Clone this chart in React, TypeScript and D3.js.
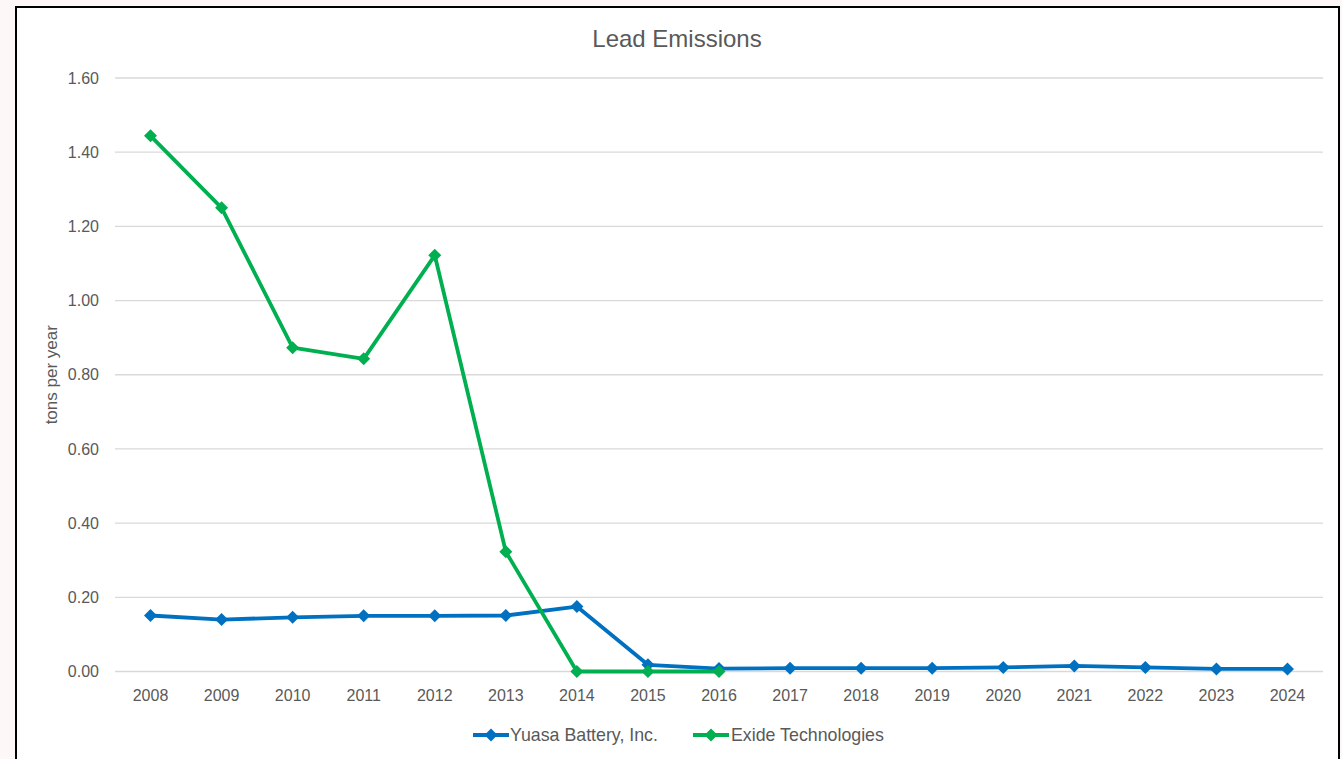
import React from "react";
import * as d3 from "d3";

const years = ["2008","2009","2010","2011","2012","2013","2014","2015","2016","2017","2018","2019","2020","2021","2022","2023","2024"];
const yuasa = [0.151, 0.140, 0.146, 0.150, 0.150, 0.151, 0.175, 0.018, 0.008, 0.009, 0.009, 0.009, 0.011, 0.015, 0.011, 0.007, 0.007];
const exide: (number | null)[] = [1.444, 1.25, 0.873, 0.843, 1.122, 0.323, 0, 0, 0, null, null, null, null, null, null, null, null];
const yTicks = [0, 0.2, 0.4, 0.6, 0.8, 1.0, 1.2, 1.4, 1.6];
const seriesNames = ["Yuasa Battery, Inc.", "Exide Technologies"];
const seriesColors = ["#0070C0", "#00B050"];
const title = "Lead Emissions";
const yTitle = "tons per year";

const W = 1342, H = 759;
const FONT = "'Liberation Sans', Arial, sans-serif";
const TXT = "#595959";

export default function App() {
  const x = d3.scaleBand<string>().domain(years).range([115, 1323]).padding(0);
  const cx = (yr: string) => (x(yr) as number) + x.bandwidth() / 2;
  const y = d3.scaleLinear().domain([0, 1.6]).range([671.5, 78]);
  const fmt = d3.format(".2f");

  const line = d3
    .line<number | null>()
    .defined((d) => d !== null)
    .x((_, i) => cx(years[i]))
    .y((d) => y(d as number));

  const diamond = (px: number, py: number, r = 6.5) =>
    `M${px},${py - r}L${px + r},${py}L${px},${py + r}L${px - r},${py}Z`;

  const series = [yuasa, exide];

  const legendItems = [
    { lx: 473, tx: 510 },
    { lx: 693, tx: 731 },
  ];

  return (
    <svg
      width={W}
      height={H}
      style={{ position: "fixed", left: 0, top: 0 }}
      fontFamily={FONT}
    >
      <rect x={0} y={0} width={W} height={H} fill="#fdf7f7" />
      <rect x={16} y={7} width={1323} height={800} fill="#ffffff" stroke="#000" strokeWidth={2} />
      <text x={677} y={47} textAnchor="middle" fontSize={24} fill={TXT}>
        {title}
      </text>
      {yTicks.map((t) => (
        <g key={t}>
          <line x1={115} x2={1323} y1={y(t)} y2={y(t)} stroke="#d9d9d9" strokeWidth={1.3} />
          <text x={99} y={y(t)} dy="0.35em" textAnchor="end" fontSize={16} fill={TXT}>
            {fmt(t)}
          </text>
        </g>
      ))}
      {years.map((yr) => (
        <text key={yr} x={cx(yr)} y={695} dy="0.35em" textAnchor="middle" fontSize={16} fill={TXT}>
          {yr}
        </text>
      ))}
      <text
        transform={`translate(51,${(y(0) + y(1.6)) / 2}) rotate(-90)`}
        textAnchor="middle"
        dy="0.35em"
        fontSize={17}
        fill={TXT}
      >
        {yTitle}
      </text>
      {series.map((s, si) => (
        <g key={si}>
          <path d={line(s) || ""} fill="none" stroke={seriesColors[si]} strokeWidth={3.8} strokeLinejoin="round" />
          {s.map((v, i) =>
            v === null ? null : (
              <path key={i} d={diamond(cx(years[i]), y(v))} fill={seriesColors[si]} />
            )
          )}
        </g>
      ))}
      {legendItems.map((li, i) => (
        <g key={i}>
          <line x1={li.lx} x2={li.lx + 36} y1={735} y2={735} stroke={seriesColors[i]} strokeWidth={3.8} />
          <path d={diamond(li.lx + 18, 735)} fill={seriesColors[i]} />
          <text x={li.tx} y={735} dy="0.35em" fontSize={17.8} fill={TXT}>
            {seriesNames[i]}
          </text>
        </g>
      ))}
    </svg>
  );
}
